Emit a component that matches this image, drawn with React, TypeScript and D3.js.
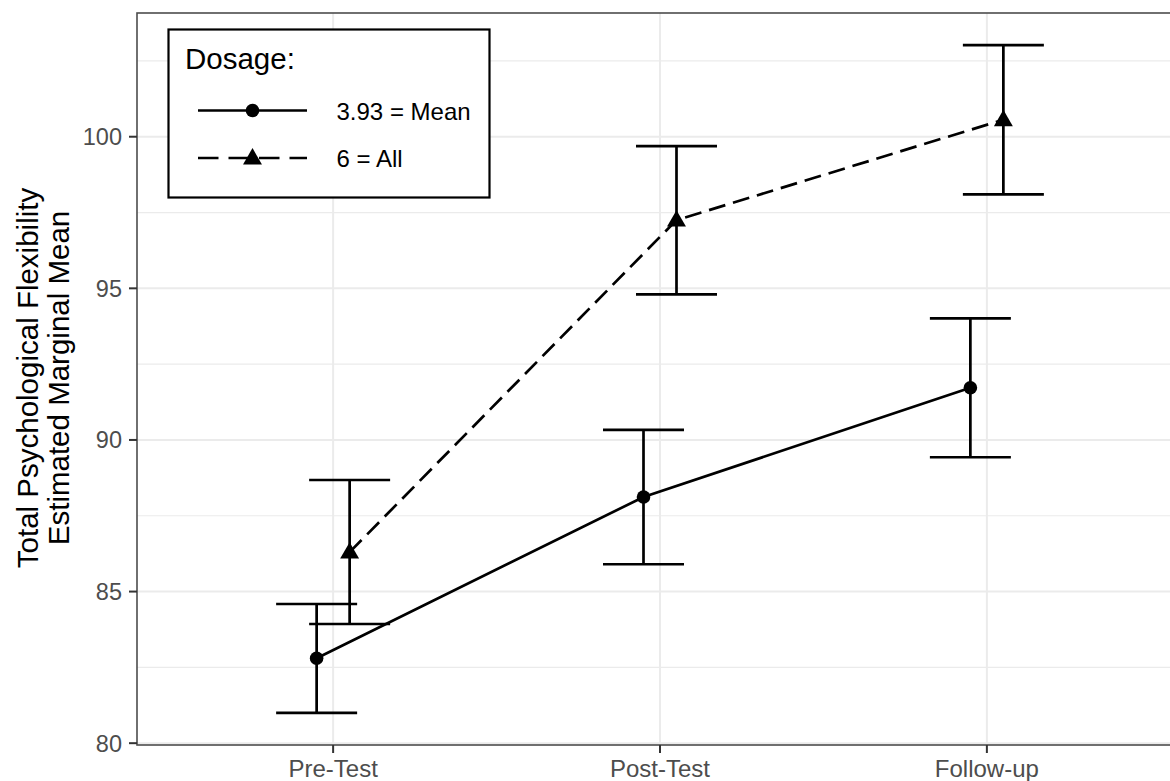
import React from "react";
import * as d3 from "d3";

const categories = ["Pre-Test", "Post-Test", "Follow-up"];
const meanValues = [82.8, 88.12, 91.72];
const meanLower = [81.0, 85.9, 89.43];
const meanUpper = [84.59, 90.33, 94.01];
const allValues = [86.3, 97.25, 100.56];
const allLower = [83.93, 94.8, 98.1];
const allUpper = [88.68, 99.69, 103.02];
const yTicks = [80, 85, 90, 95, 100];
const yMinor = [82.5, 87.5, 92.5, 97.5, 102.5];
const legendTitle = "Dosage:";
const legendLabels = ["3.93 = Mean", "6 = All"];
const yTitle = ["Total Psychological Flexibility", "Estimated Marginal Mean"];

const W = 1170;
const H = 781;
const FONT = "'Liberation Sans', Arial, Helvetica, sans-serif";

export default function App() {
  const left = 137, right = 1183, top = 13, bottom = 745;
  const x = d3.scalePoint<string>().domain(categories).range([left, right]).padding(0.6);
  const y = d3.scaleLinear().domain([79.94, 104.08]).range([bottom, top]);
  const dodge = 16.5;
  const capHalf = 40.5;

  const series = [
    { vals: meanValues, lo: meanLower, hi: meanUpper, off: -dodge, dash: undefined as string | undefined, shape: "circle" },
    { vals: allValues, lo: allLower, hi: allUpper, off: dodge, dash: "17 8", shape: "triangle" },
  ];

  const line = d3.line<[number, number]>().x((d) => d[0]).y((d) => d[1]);
  const tri = d3.symbol().type(d3.symbolTriangle).size(155);
  const circ = d3.symbol().type(d3.symbolCircle).size(145);

  return (
    <svg width={W} height={H} style={{ position: "absolute", left: 0, top: 0, background: "#fff" }} fontFamily={FONT}>
      <rect x={0} y={0} width={W} height={H} fill="#fff" />
      {/* grid */}
      {yMinor.map((v) => (
        <line key={"mi" + v} x1={left} x2={right} y1={y(v)} y2={y(v)} stroke="#ebebeb" strokeWidth={1.2} />
      ))}
      {yTicks.map((v) => (
        <line key={"ma" + v} x1={left} x2={right} y1={y(v)} y2={y(v)} stroke="#ebebeb" strokeWidth={2} />
      ))}
      {categories.map((c) => (
        <line key={"vx" + c} x1={x(c)!} x2={x(c)!} y1={top} y2={bottom} stroke="#ebebeb" strokeWidth={2} />
      ))}
      {/* series */}
      {series.map((s, si) => {
        const pts: [number, number][] = categories.map((c, i) => [x(c)! + s.off, y(s.vals[i])]);
        return (
          <g key={"s" + si}>
            {categories.map((c, i) => {
              const cx = x(c)! + s.off;
              return (
                <g key={"eb" + i} stroke="#000" strokeWidth={2.7}>
                  <line x1={cx} x2={cx} y1={y(s.lo[i])} y2={y(s.hi[i])} />
                  <line x1={cx - capHalf} x2={cx + capHalf} y1={y(s.lo[i])} y2={y(s.lo[i])} />
                  <line x1={cx - capHalf} x2={cx + capHalf} y1={y(s.hi[i])} y2={y(s.hi[i])} />
                </g>
              );
            })}
            <path d={line(pts)!} fill="none" stroke="#000" strokeWidth={2.7} strokeDasharray={s.dash} />
            {pts.map((p, i) => (
              <path
                key={"pt" + i}
                d={(s.shape === "circle" ? circ : tri)()!}
                transform={`translate(${p[0]},${p[1] + (s.shape === "triangle" ? 1 : 0)})`}
                fill="#000"
              />
            ))}
          </g>
        );
      })}
      {/* panel border */}
      <rect x={left} y={top} width={right - left} height={bottom - top} fill="none" stroke="#4d4d4d" strokeWidth={1.6} />
      {/* y axis ticks */}
      {yTicks.map((v) => (
        <g key={"yt" + v}>
          <line x1={left - 8} x2={left} y1={y(v)} y2={y(v)} stroke="#333" strokeWidth={2} />
          <text x={left - 15} y={y(v)} dy="0.36em" textAnchor="end" fontSize={23.5} fill="#4d4d4d">
            {v}
          </text>
        </g>
      ))}
      {/* x axis ticks */}
      {categories.map((c) => (
        <g key={"xt" + c}>
          <line x1={x(c)!} x2={x(c)!} y1={bottom} y2={bottom + 8} stroke="#333" strokeWidth={2} />
          <text x={x(c)!} y={777} textAnchor="middle" fontSize={24} fill="#4d4d4d">
            {c}
          </text>
        </g>
      ))}
      {/* y title */}
      {yTitle.map((t, i) => (
        <text
          key={"ytl" + i}
          transform={`translate(${38 + i * 31},${(top + bottom) / 2 - 1}) rotate(-90)`}
          textAnchor="middle"
          fontSize={29.5}
          fill="#000"
        >
          {t}
        </text>
      ))}
      {/* legend */}
      <g>
        <rect x={168.5} y={29.5} width={321} height={168} fill="#fff" stroke="#000" strokeWidth={2.2} />
        <text x={185} y={69} fontSize={29.5} fill="#000">
          {legendTitle}
        </text>
        {legendLabels.map((lab, i) => {
          const ly = 110.5 + i * 47.5;
          return (
            <g key={"lg" + i}>
              <line
                x1={198}
                x2={307}
                y1={ly}
                y2={ly}
                stroke="#000"
                strokeWidth={2.7}
                strokeDasharray={i === 1 ? "20.5 10" : undefined}
              />
              <path
                d={(i === 0 ? circ : tri)()!}
                transform={`translate(${252.5},${ly + (i === 1 ? 1 : 0)})`}
                fill="#000"
              />
              <text x={336.5} y={ly + 9} fontSize={24} fill="#000">
                {lab}
              </text>
            </g>
          );
        })}
      </g>
    </svg>
  );
}
